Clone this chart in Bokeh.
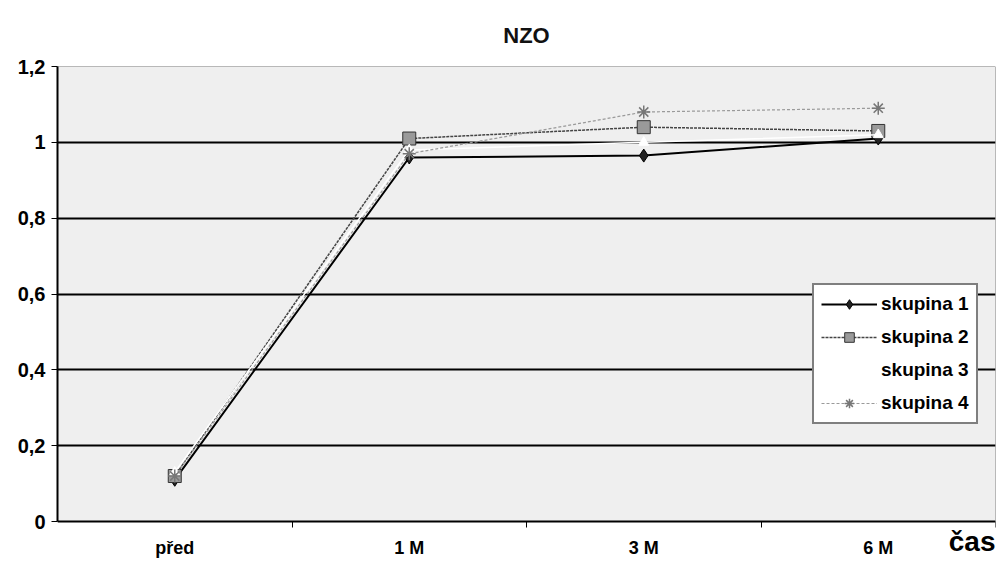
from bokeh.plotting import figure
from bokeh.models import (FixedTicker, CustomJSTickFormatter, Legend, LegendItem,
                          Label, Range1d)
from bokeh.embed import file_html
from bokeh.resources import INLINE

categories = ["před", "1 M", "3 M", "6 M"]
skupina1 = [0.11, 0.96, 0.965, 1.01]
skupina2 = [0.12, 1.01, 1.04, 1.03]
skupina3 = [0.13, 0.98, 1.00, 1.02]
skupina4 = [0.12, 0.97, 1.08, 1.09]
y_ticks = [0, 0.2, 0.4, 0.6, 0.8, 1.0, 1.2]
y_min, y_max = 0, 1.2

xs = [i + 0.5 for i in range(len(categories))]
n = len(categories)

FONT = "Liberation Sans"

p = figure(width=997, height=564, output_backend="svg", toolbar_location=None,
           x_range=Range1d(0, n), y_range=Range1d(-0.1134, y_max),
           min_border_left=57, min_border_right=2, min_border_top=66,
           min_border_bottom=0)

p.title.text = "NZO"
p.title.align = "center"
p.title.text_font = FONT
p.title.text_font_size = "22px"
p.title.text_font_style = "bold"
p.title.text_color = "#111111"
p.title.standoff = 38

p.background_fill_color = "white"
p.border_fill_color = "white"
p.outline_line_color = None

# plot area background
p.quad(left=[0], right=[n], bottom=[y_min], top=[y_max], fill_color="#efefef",
       line_color="#777777", line_width=1, level="underlay")

# grid
p.xgrid.grid_line_color = None
p.ygrid.grid_line_color = "black"
p.ygrid.grid_line_width = 2
p.ygrid.ticker = FixedTicker(ticks=y_ticks[1:-1])

# y axis
p.yaxis.ticker = FixedTicker(ticks=y_ticks)
p.yaxis.bounds = (y_min, y_max)
p.yaxis.formatter = CustomJSTickFormatter(
    code="var s = (Math.round(tick*10)/10).toString(); return s.replace('.', ',');")
p.yaxis.axis_line_color = "black"
p.yaxis.axis_line_width = 2
p.yaxis.major_tick_line_color = "black"
p.yaxis.major_tick_in = 0
p.yaxis.major_tick_out = 6
p.yaxis.minor_tick_line_color = None
p.yaxis.major_label_text_font = FONT
p.yaxis.major_label_text_font_size = "20px"
p.yaxis.major_label_text_font_style = "bold"
p.yaxis.major_label_text_color = "black"
p.yaxis.major_label_standoff = 6

# x axis (drawn at y = 0)
p.xaxis.fixed_location = 0
p.xaxis.ticker = FixedTicker(ticks=xs, minor_ticks=list(range(1, n + 1)))
p.xaxis.major_label_overrides = {x: c for x, c in zip(xs, categories)}
p.xaxis.axis_line_color = "black"
p.xaxis.axis_line_width = 2
p.xaxis.major_tick_line_color = None
p.xaxis.minor_tick_line_color = "black"
p.xaxis.minor_tick_in = 0
p.xaxis.minor_tick_out = 6
p.xaxis.major_label_text_font = FONT
p.xaxis.major_label_text_font_size = "18px"
p.xaxis.major_label_text_font_style = "bold"
p.xaxis.major_label_text_color = "black"
p.xaxis.major_label_standoff = 10

# series
r1l = p.line(xs, skupina1, line_color="black", line_width=2)
r1m = p.scatter(xs, skupina1, marker="diamond", size=13, fill_color="#222222",
                line_color="black", line_width=1)
r2l = p.line(xs, skupina2, line_color="#444444", line_width=1.5, line_dash="3 1")
r2m = p.scatter(xs, skupina2, marker="square", size=13, fill_color="#9a9a9a",
                line_color="#333333", line_width=1)
r3l = p.line(xs, skupina3, line_color="white", line_width=1.5)
r3m = p.scatter(xs, skupina3, marker="triangle", size=10, fill_color="white",
                line_color="white")
r4l = p.line(xs, skupina4, line_color="#9a9a9a", line_width=1.2, line_dash="3 2")
r4m = p.scatter(xs, skupina4, marker="asterisk", size=13, line_color="#777777",
                line_width=1.5)

legend = Legend(items=[
    LegendItem(label="skupina 1", renderers=[r1l, r1m]),
    LegendItem(label="skupina 2", renderers=[r2l, r2m]),
    LegendItem(label="skupina 3", renderers=[r3l, r3m]),
    LegendItem(label="skupina 4", renderers=[r4l, r4m]),
], location=(755, 140))
legend.label_text_font = FONT
legend.label_text_font_size = "19px"
legend.label_text_font_style = "bold"
legend.label_text_color = "black"
legend.border_line_color = "black"
legend.border_line_width = 2
legend.background_fill_color = "white"
legend.background_fill_alpha = 1
legend.glyph_width = 56
legend.glyph_height = 24
legend.label_height = 24
legend.spacing = 9
legend.padding = 7
legend.margin = 0
legend.label_standoff = 4
p.add_layout(legend, "center")

cas = Label(x=n, y=-0.053, text="čas", text_font=FONT, text_font_size="28px",
            text_font_style="bold", text_align="right", text_baseline="middle",
            text_color="black")
p.add_layout(cas)

open("out.html", "w").write(file_html(p, INLINE))
